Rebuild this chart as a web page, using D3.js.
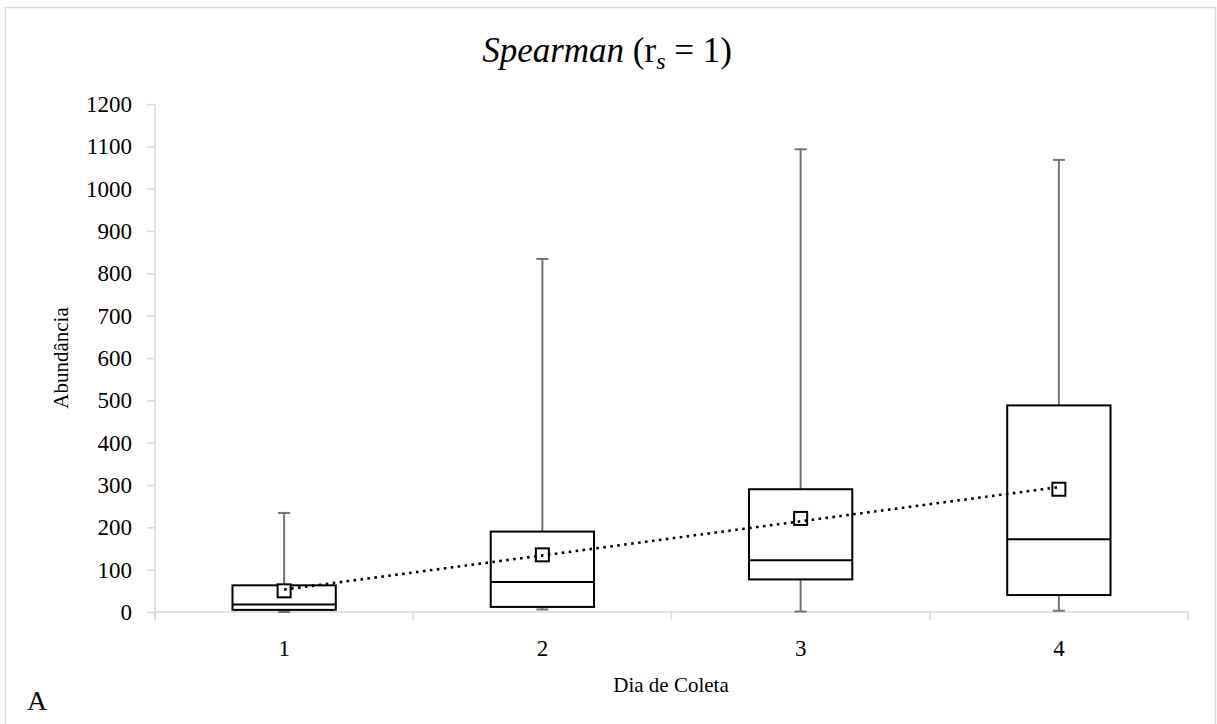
<!DOCTYPE html>
<html>
<head>
<meta charset="utf-8">
<script src="https://cdn.jsdelivr.net/npm/d3@7"></script>
<style>
  body { margin: 0; background: #fff; }
  svg text { font-family: "Liberation Serif", "Times New Roman", serif; fill: #000; }
</style>
</head>
<body>
<div id="chart"></div>
<script>
(function() {
  // data
  const days = ['1', '2', '3', '4'];
  const whiskerLow = [0, 6, 1, 3];
  const q1 = [5, 12, 77, 40];
  const median = [18, 71, 122, 172];
  const q3 = [63, 190, 290, 488];
  const whiskerHigh = [234, 834, 1093, 1068];
  const means = [50, 135, 221, 290];
  const yTicks = [0, 100, 200, 300, 400, 500, 600, 700, 800, 900, 1000, 1100, 1200];

  const W = 1217, H = 724;
  const margin = { top: 104, right: 29, bottom: 112, left: 155 };
  const width = W - margin.left - margin.right;
  const height = H - margin.top - margin.bottom;
  const serif = '"Liberation Serif", "Times New Roman", serif';

  const root = d3.select('#chart')
    .append('svg')
    .attr('width', W)
    .attr('height', H);

  // outer frame
  root.append('rect')
    .attr('x', 5.5).attr('y', 7.5)
    .attr('width', 1210).attr('height', 740)
    .attr('fill', 'none')
    .attr('stroke', '#d9d9d9')
    .attr('stroke-width', 1.5);

  const svg = root.append('g')
    .attr('transform', `translate(${margin.left}, ${margin.top})`);

  const x = d3.scaleBand().domain(days).range([0, width]);
  const y = d3.scaleLinear().domain([0, 1200]).range([height, 0]);

  // y axis
  const yAxis = svg.append('g')
    .call(d3.axisLeft(y).tickValues(yTicks).tickFormat(d3.format('d')).tickSize(8).tickPadding(15))
    .attr('font-family', serif)
    .attr('font-size', 23);
  yAxis.selectAll('line, path').attr('stroke', '#d9d9d9').attr('stroke-width', 1.5);
  yAxis.select('.domain').attr('d', `M0,0V${height + 8}`);
  yAxis.selectAll('text').attr('fill', '#000');

  // x axis: ticks at category boundaries
  const xg = svg.append('g').attr('transform', `translate(0, ${height})`);
  xg.append('line')
    .attr('x1', 0).attr('x2', width)
    .attr('stroke', '#d9d9d9').attr('stroke-width', 1.5);
  const bounds = days.map(d => x(d)).concat([width]);
  xg.selectAll('.xtick')
    .data(bounds)
    .enter()
    .append('line')
    .attr('x1', d => d).attr('x2', d => d)
    .attr('y1', 0).attr('y2', 8)
    .attr('stroke', '#d9d9d9').attr('stroke-width', 1.5);
  xg.selectAll('.xlabel')
    .data(days)
    .enter()
    .append('text')
    .attr('x', d => x(d) + x.bandwidth() / 2)
    .attr('y', 44)
    .attr('text-anchor', 'middle')
    .style('font-size', '23px')
    .text(d => d);

  const boxW = x.bandwidth() * 0.4;
  const cx = i => x(days[i]) + x.bandwidth() / 2;
  const idx = d3.range(days.length);

  // whiskers
  const wColor = '#737373';
  idx.forEach(i => {
    const g = svg.append('g');
    g.append('line')
      .attr('x1', cx(i)).attr('x2', cx(i))
      .attr('y1', y(q3[i])).attr('y2', y(whiskerHigh[i]))
      .attr('stroke', wColor).attr('stroke-width', 2);
    g.append('line')
      .attr('x1', cx(i) - 6).attr('x2', cx(i) + 6)
      .attr('y1', y(whiskerHigh[i])).attr('y2', y(whiskerHigh[i]))
      .attr('stroke', wColor).attr('stroke-width', 2);
    g.append('line')
      .attr('x1', cx(i)).attr('x2', cx(i))
      .attr('y1', y(q1[i])).attr('y2', y(whiskerLow[i]))
      .attr('stroke', wColor).attr('stroke-width', 2);
    g.append('line')
      .attr('x1', cx(i) - 6).attr('x2', cx(i) + 6)
      .attr('y1', y(whiskerLow[i])).attr('y2', y(whiskerLow[i]))
      .attr('stroke', wColor).attr('stroke-width', 2);
  });

  // boxes
  svg.selectAll('.box')
    .data(idx)
    .enter()
    .append('rect')
    .attr('x', i => cx(i) - boxW / 2)
    .attr('y', i => y(q3[i]))
    .attr('width', boxW)
    .attr('height', i => y(q1[i]) - y(q3[i]))
    .attr('fill', 'none')
    .attr('stroke', '#000')
    .attr('stroke-width', 2);

  svg.selectAll('.median')
    .data(idx)
    .enter()
    .append('line')
    .attr('x1', i => cx(i) - boxW / 2)
    .attr('x2', i => cx(i) + boxW / 2)
    .attr('y1', i => y(median[i]))
    .attr('y2', i => y(median[i]))
    .attr('stroke', '#000')
    .attr('stroke-width', 2);

  // mean markers
  svg.selectAll('.mean')
    .data(idx)
    .enter()
    .append('rect')
    .attr('x', i => cx(i) - 6.5)
    .attr('y', i => y(means[i]) - 6.5)
    .attr('width', 13)
    .attr('height', 13)
    .attr('fill', '#fff')
    .attr('stroke', '#000')
    .attr('stroke-width', 2);

  // linear trendline through the means (least squares)
  const xs = idx.map(i => i + 1);
  const mx = d3.mean(xs), my = d3.mean(means);
  const slope = d3.sum(idx, i => (xs[i] - mx) * (means[i] - my)) / d3.sum(xs, v => (v - mx) ** 2);
  const icpt = my - slope * mx;
  svg.append('line')
    .attr('x1', cx(0)).attr('y1', y(icpt + slope * 1))
    .attr('x2', cx(3)).attr('y2', y(icpt + slope * 4))
    .attr('stroke', '#000')
    .attr('stroke-width', 2.6)
    .attr('stroke-dasharray', '2.6 4.4');

  // title
  const title = root.append('text')
    .attr('x', 607)
    .attr('y', 62)
    .attr('text-anchor', 'middle')
    .style('font-size', '35px');
  title.append('tspan').style('font-style', 'italic').text('Spearman');
  title.append('tspan').text(' (r');
  title.append('tspan').attr('dy', 7).style('font-style', 'italic').style('font-size', '24px').text('s');
  title.append('tspan').attr('dy', -7).text(' = 1)');

  // axis titles
  root.append('text')
    .attr('x', 671)
    .attr('y', 692)
    .attr('text-anchor', 'middle')
    .style('font-size', '21px')
    .text('Dia de Coleta');

  root.append('text')
    .attr('transform', 'translate(68, 358) rotate(-90)')
    .attr('text-anchor', 'middle')
    .style('font-size', '21px')
    .text('Abundância');

  root.append('text')
    .attr('x', 27)
    .attr('y', 710)
    .style('font-size', '28px')
    .text('A');
})();
</script>
</body>
</html>
